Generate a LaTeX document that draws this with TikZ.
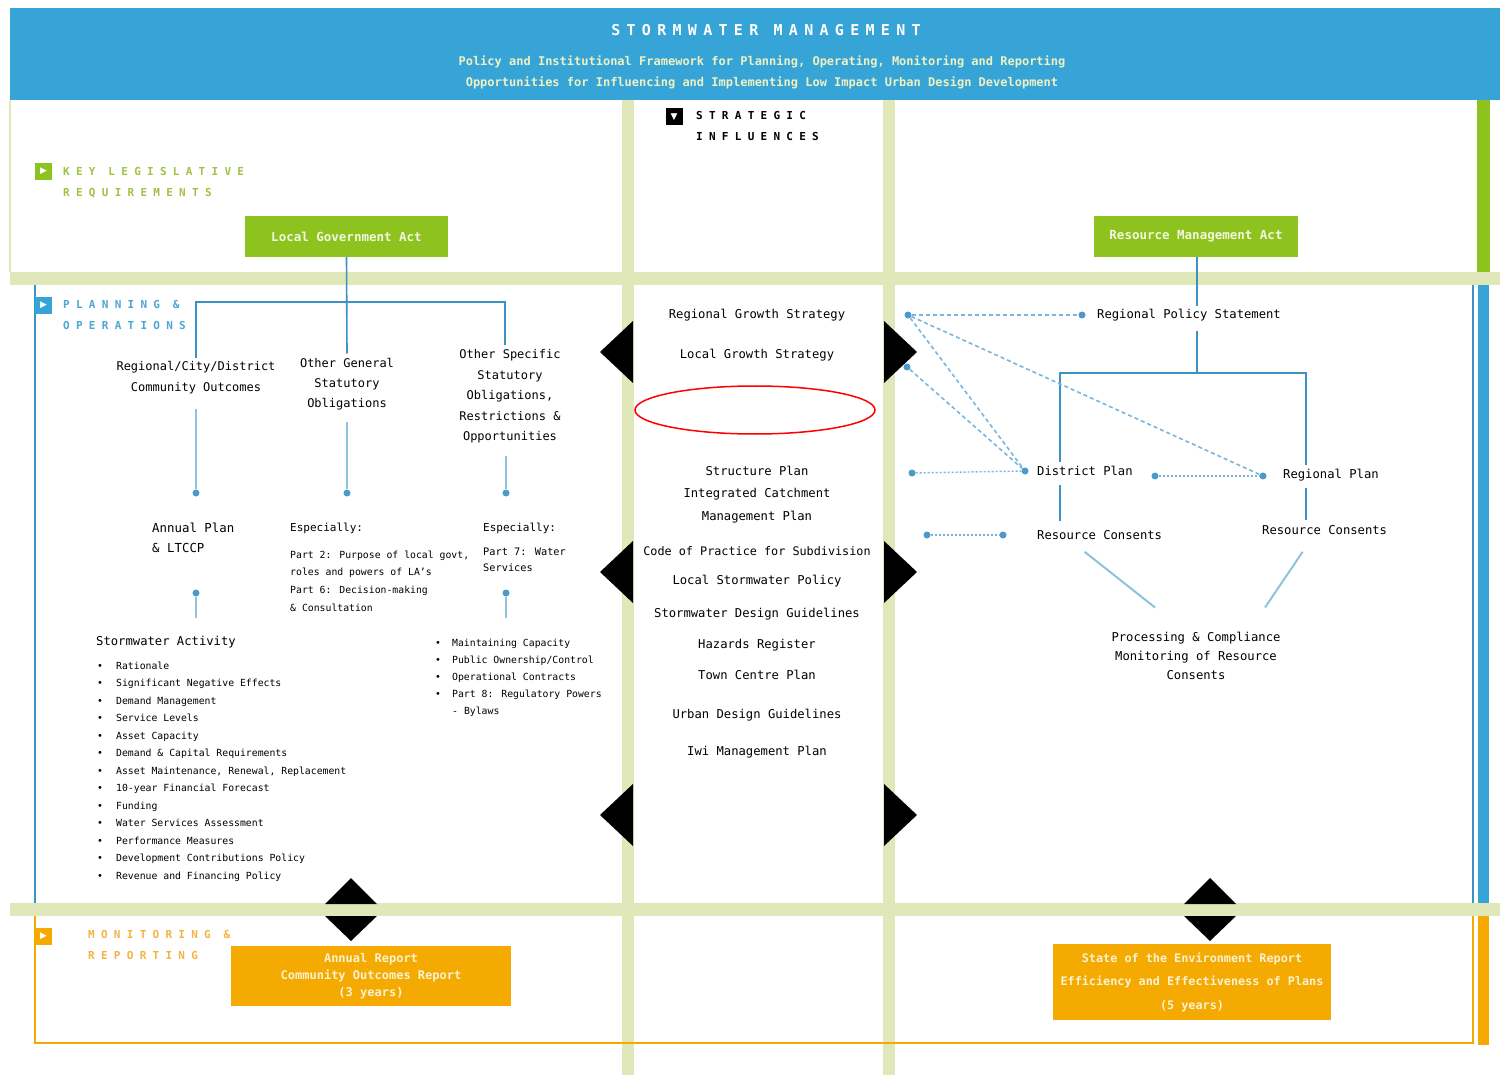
\documentclass[tikz,border=0pt]{standalone}
\usepackage{fontspec}
\setmainfont{DejaVu Sans Mono}
\newfontfamily\headfont[LetterSpace=57]{DejaVu Sans Mono}
\newfontfamily\titlefont[LetterSpace=42]{DejaVu Sans Mono}
\newfontfamily\symfont{DejaVu Sans}
\usetikzlibrary{calc}

\definecolor{hdrblue}{HTML}{36A4D6}
\definecolor{lnblue}{HTML}{3B93C4}
\definecolor{ltblue}{HTML}{8EC3E0}
\definecolor{dotblue}{HTML}{4A9ACA}
\definecolor{dashblue}{HTML}{78B6DC}
\definecolor{lime}{HTML}{8DC21F}
\definecolor{band}{HTML}{E0E7B8}
\definecolor{amber}{HTML}{F4AA00}
\definecolor{subtxt}{HTML}{EEF1C4}
\definecolor{actxt}{HTML}{F2F7DE}
\definecolor{reptxt}{HTML}{FBF2D2}
\definecolor{keygreen}{HTML}{A0C246}
\definecolor{planblue}{HTML}{4DA6D3}
\definecolor{monorange}{HTML}{F2B444}

% bullet item with a fixed indent
\newcommand\blt[2][19pt]{\makebox[#1][l]{\textbullet}#2}
\newcommand\nob[2][17pt]{\makebox[#1][l]{}#2}

\begin{document}
\begin{tikzpicture}[x=1pt,y=-1pt,
  bodytxt/.style={inner sep=0pt, font=\fontsize{12.2}{20}\selectfont},
  smalltxt/.style={inner sep=0pt, font=\fontsize{9.8}{17.5}\selectfont},
  heading/.style={inner sep=0pt, align=left, anchor=north west, font=\headfont\bfseries\fontsize{11}{21}\selectfont},
  secicon/.style={minimum size=17pt, inner sep=0pt, text=white, font=\symfont\fontsize{9}{9}\selectfont},
  actbox/.style={fill=lime, minimum width=203pt, minimum height=41pt, inner sep=0pt, text=actxt, font=\bfseries\fontsize{12.5}{14}\selectfont},
  repbox/.style={fill=amber, inner sep=0pt, align=center, text=reptxt},
  bline/.style={draw=lnblue, line width=1.6pt},
  stemln/.style={draw=ltblue, line width=2pt},
  diagln/.style={draw=ltblue, line width=2pt},
  bdot/.style={circle, fill=dotblue, inner sep=0pt, minimum size=7pt},
  dashln/.style={draw=dashblue, line width=1.6pt, dash pattern=on 4pt off 3pt},
  dotln/.style={draw=dashblue, line width=1.4pt, dash pattern=on 2pt off 2pt},
  pointer/.style={fill=black},
]
\useasboundingbox (0,0) rectangle (1500,1075);
\fill[white] (0,0) rectangle (1500,1075);

% ---------- header ----------
\fill[hdrblue] (10,8) rectangle (1500,100);
\node[font=\titlefont\bfseries\fontsize{15}{15}\selectfont, text=white, inner sep=0pt] (title) at (766,30) {STORMWATER MANAGEMENT};
\node[align=center, anchor=north, text=subtxt, font=\bfseries\fontsize{12}{21}\selectfont, inner sep=0pt] (subtitle) at (762,55.5)
  {Policy and Institutional Framework for Planning, Operating, Monitoring and Reporting\\
   Opportunities for Influencing and Implementing Low Impact Urban Design Development};

% ---------- grid bands ----------
\draw[band, line width=1.5pt] (10,100) -- (10,272);
\fill[band] (10,272) rectangle (1500,285);
\fill[band] (10,903) rectangle (1500,916);
\fill[band] (622,100) rectangle (634,1075);
\fill[band] (883,100) rectangle (895,1075);

% ---------- section frames and side bars ----------
\fill[lime] (1477,100) rectangle (1490,272);
\draw[lnblue, line width=1.5pt] (35,285) -- (35,903);
\draw[lnblue, line width=1.5pt] (1473,285) -- (1473,903);
\fill[hdrblue] (1478,285) rectangle (1489,903);
\draw[amber, line width=1.5pt] (35,916) -- (35,1043) -- (1473,1043) -- (1473,916);
\fill[amber] (1478,916) rectangle (1489,1045);

% ---------- section headings ----------
\node[secicon, fill=lime] (kicon) at (43.5,171.5) {▶};
\node[heading, text=keygreen] (khead) at (63,167) {KEY LEGISLATIVE\\REQUIREMENTS};
\node[secicon, fill=hdrblue] (picon) at (43.5,305.5) {▶};
\node[heading, text=planblue] (phead) at (63,300) {PLANNING \&\\OPERATIONS};
\node[secicon, fill=amber] (micon) at (43.5,936.5) {▶};
\node[heading, text=monorange] (mhead) at (88,930) {MONITORING \&\\REPORTING};
\node[secicon, fill=black] (sicon) at (674,117) {▼};
\node[heading, text=black] (shead) at (696,111) {STRATEGIC\\INFLUENCES};

% ---------- legislation ----------
\node[actbox] (lga) at (346.5,236.5) {Local Government Act};
\node[actbox, minimum width=204pt] (rma) at (1196,236.5) {Resource Management Act};

% ---------- planning: local government side ----------
\node[bodytxt, align=center, anchor=north, font=\fontsize{12}{21}\selectfont] (rco) at (196,361.5) {Regional/City/District\\Community Outcomes};
\node[bodytxt, align=center, anchor=north, font=\fontsize{12}{20}\selectfont] (ogs) at (347,358.5) {Other General\\Statutory\\Obligations};
\node[bodytxt, align=center, anchor=north, font=\fontsize{12}{20.5}\selectfont] (oss) at (510,349.5) {Other Specific\\Statutory\\Obligations,\\Restrictions \&\\Opportunities};

\coordinate (j1) at (196,302);
\coordinate (j2) at (505,302);
\draw[bline] (lga.south) -- ($(ogs.north)+(0,-5)$);
\draw[bline] ($(rco.north -| j1)+(0,-3)$) -- (j1) -- (j2) -- ($(oss.north -| j2)+(0,-4)$);

\node[bdot] (d1) at (196,493) {};
\node[bdot] (d2) at (347,493) {};
\node[bdot] (d3) at (506,493) {};
\draw[stemln] ($(rco.south -| d1)+(0,14)$) -- (d1);
\draw[stemln] ($(ogs.south -| d2)+(0,11)$) -- (d2);
\draw[stemln] ($(oss.south -| d3)+(0,12)$) -- (d3);

\node[bodytxt, align=left, anchor=north west, font=\fontsize{12.4}{20}\selectfont] (anp) at (152,522.5) {Annual Plan\\\& LTCCP};
\node[bodytxt, anchor=west, font=\fontsize{11}{14}\selectfont] (esp1) at (290,528) {Especially:};
\node[smalltxt, align=left, anchor=north west, font=\fontsize{9.8}{17.7}\selectfont] (prt1) at (290,550.5)
  {Part 2: Purpose of local govt,\\roles and powers of LA's\\Part 6: Decision-making\\\& Consultation};
\node[bodytxt, anchor=west, font=\fontsize{11}{14}\selectfont] (esp2) at (483,528) {Especially:};
\node[smalltxt, align=left, anchor=north west, font=\fontsize{10.3}{16}\selectfont] (prt2) at (483,547.5) {Part 7: Water\\Services};

\node[bdot] (d4) at (196,593) {};
\node[bdot] (d5) at (506,593) {};
\coordinate (e4) at (196,618);
\coordinate (e5) at (506,618);
\draw[stemln] (d4) -- (e4);
\draw[stemln] (d5) -- (e5);

\node[bodytxt, anchor=west] (swa) at (96,642) {Stormwater Activity};
\node[smalltxt, align=left, anchor=north west] (lst1) at (97,661.5)
  {\blt{Rationale}\\
   \blt{Significant Negative Effects}\\
   \blt{Demand Management}\\
   \blt{Service Levels}\\
   \blt{Asset Capacity}\\
   \blt{Demand \& Capital Requirements}\\
   \blt{Asset Maintenance, Renewal, Replacement}\\
   \blt{10-year Financial Forecast}\\
   \blt{Funding}\\
   \blt{Water Services Assessment}\\
   \blt{Performance Measures}\\
   \blt{Development Contributions Policy}\\
   \blt{Revenue and Financing Policy}};
\node[smalltxt, align=left, anchor=north west, font=\fontsize{9.8}{17}\selectfont] (lst2) at (435,638.5)
  {\blt[17pt]{Maintaining Capacity}\\
   \blt[17pt]{Public Ownership/Control}\\
   \blt[17pt]{Operational Contracts}\\
   \blt[17pt]{Part 8: Regulatory Powers}\\
   \nob{- Bylaws}};

% ---------- strategic influences ----------
\node[bodytxt] (rgs) at (757,315) {Regional Growth Strategy};
\node[bodytxt] (lgs) at (757,355) {Local Growth Strategy};
\draw[red, line width=1.5pt] (755,410) ellipse [x radius=120, y radius=24];
\node[bodytxt, align=center, anchor=north, font=\fontsize{12.2}{22.5}\selectfont] (spl) at (757,465.5) {Structure Plan\\Integrated Catchment\\Management Plan};
\node[bodytxt, font=\fontsize{11.8}{14}\selectfont] (cop) at (757,551) {Code of Practice for Subdivision};
\node[bodytxt] (lsp) at (757,581) {Local Stormwater Policy};
\node[bodytxt] (sdg) at (757,614) {Stormwater Design Guidelines};
\node[bodytxt] (hzr) at (757,645) {Hazards Register};
\node[bodytxt] (tcp) at (757,675) {Town Centre Plan};
\node[bodytxt] (udg) at (757,715) {Urban Design Guidelines};
\node[bodytxt] (iwi) at (757,752) {Iwi Management Plan};

% influence pointers either side of the strategic column
\foreach \yy in {352,572,815}{
  \fill[pointer] (600,\yy) -- (633,\yy-31) -- (633,\yy+31) -- cycle;
  \fill[pointer] (917,\yy) -- (884,\yy-31) -- (884,\yy+31) -- cycle;
}

% ---------- planning: regional side ----------
\node[bodytxt, anchor=west] (rps) at (1097,315) {Regional Policy Statement};
\node[bodytxt, anchor=west] (dp) at (1037,471) {District Plan};
\node[bodytxt, anchor=west] (rp) at (1283,475) {Regional Plan};
\node[bodytxt, anchor=west] (rc1) at (1037,535) {Resource Consents};
\node[bodytxt, anchor=west] (rc2) at (1262,530) {Resource Consents};
\node[bodytxt, align=center, anchor=north, font=\fontsize{12.2}{19}\selectfont] (pcm) at (1196,631.5) {Processing \& Compliance\\Monitoring of Resource\\Consents};

\coordinate (hub2) at (1197,373);
\coordinate (jL) at (1060,373);
\coordinate (jR) at (1306,373);
\draw[bline] (rma.south -| hub2) -- ($(rps.north -| hub2)+(0,-3)$);
\draw[bline] ($(rps.south -| hub2)+(0,10)$) -- (hub2);
\draw[bline] ($(dp.north -| jL)+(0,-4)$) -- (jL) -- (jR) -- ($(rp.north -| jR)+(0,-4)$);
\draw[bline] ($(dp.south -| jL)+(0,9)$) -- ($(rc1.north -| jL)+(0,-9)$);
\draw[bline] ($(rp.south -| jR)+(0,7)$) -- ($(rc2.north -| jR)+(0,-5)$);

\draw[diagln] ($(rc1.south)+(-15,12)$) -- ($(pcm.north)+(-41,-24)$);
\draw[diagln] ($(rc2.south)+(-22,17)$) -- ($(pcm.north)+(69,-24)$);

% dashed influence links
\node[bdot] (q1) at (908,315) {};
\node[bdot] (q2) at (1082,315) {};
\node[bdot] (q3) at (907,367) {};
\node[bdot] (q4) at (1025,471) {};
\node[bdot] (q5) at (912,473) {};
\node[bdot] (q6) at (1155,476) {};
\node[bdot] (q7) at (1263,476) {};
\node[bdot] (q8) at (927,535) {};
\node[bdot] (q9) at (1003,535) {};
\draw[dashln] (q1) -- (q2);
\draw[dashln] (q1) -- (q4);
\draw[dashln] (q1) -- (q7);
\draw[dashln] (q3) -- (q4);
\draw[dotln] (q5) -- (q4);
\draw[dotln] (q6) -- (q7);
\draw[dotln] (q8) -- (q9);

% ---------- monitoring & reporting ----------
\foreach \xx in {351,1210}{
  \fill[pointer] (\xx-26,904) -- (\xx,878) -- (\xx+26,904) -- cycle;
  \fill[pointer] (\xx-26,916) -- (\xx,941) -- (\xx+26,916) -- cycle;
}
\node[repbox, minimum width=280pt, minimum height=60pt, font=\bfseries\fontsize{12}{17.5}\selectfont] (arep) at (371,976)
  {\raisebox{-3pt}{\begin{tabular}{@{}c@{}}Annual Report\\[-0.3pt]Community Outcomes Report\\[-0.3pt](3 years)\end{tabular}}};
\node[repbox, minimum width=278pt, minimum height=76pt, font=\bfseries\fontsize{11.8}{23.5}\selectfont] (soe) at (1192,982)
  {State of the Environment Report\\Efficiency and Effectiveness of Plans\\(5 years)};
\end{tikzpicture}
\end{document}
